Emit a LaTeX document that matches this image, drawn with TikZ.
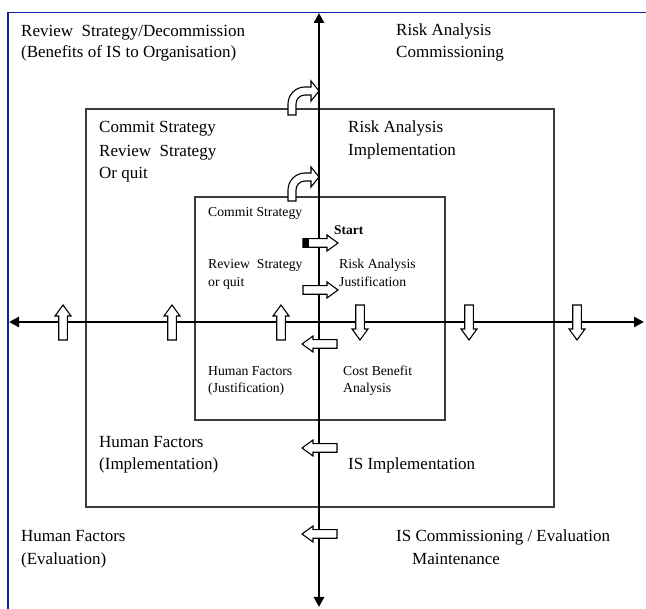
\documentclass[tikz,border=0pt]{standalone}
\usepackage{fontspec}
\setmainfont{Liberation Serif}
\usetikzlibrary{arrows.meta}
\definecolor{frameblue}{RGB}{25,25,170}
\definecolor{boxgray}{RGB}{60,60,60}
\begin{document}
\begin{tikzpicture}[x=1pt,y=-1pt,
  big/.style={font=\fontsize{17}{21}\selectfont, anchor=base west, inner sep=0},
  small/.style={font=\fontsize{13.7}{16}\selectfont, anchor=base west, inner sep=0},
  axisline/.style={line width=2.5pt, {Triangle[length=10pt,width=10pt]}-{Triangle[length=10pt,width=10pt]}},
  boxline/.style={draw=boxgray, line width=1.3pt},
  barrow/.style={draw=black, fill=white, line width=1.1pt, line join=miter},
  blockarrow/.pic={\draw[barrow] (0,-4.3) -- (24,-4.3) -- (24,-8) -- (35,0) -- (24,8) -- (24,4.3) -- (0,4.3) -- cycle;},
  bentarrow/.pic={\draw[barrow] (0,0) -- (-8,10) -- (-8,4) -- (-14,4) .. controls (-19,4) and (-23,8) .. (-23,13) -- (-23,24) -- (-31,24) -- (-31,13) .. controls (-31,3.6) and (-23.4,-4) .. (-14,-4) -- (-8,-4) -- (-8,-10) -- cycle;}
]
\useasboundingbox (0,0) rectangle (646,609);
\fill[white] (0,0) rectangle (646,609);

% outer frame (only top and left edges are visible)
\draw[frameblue, line width=1.4pt] (8,609) -- (8,12.7) -- (646,12.7);

% boxes
\draw[boxline] (86,109) rectangle (554,507);
\draw[boxline] (195,197) rectangle (445,420);

% axes
\coordinate (top) at (319,13);
\coordinate (bottom) at (319,607);
\coordinate (left) at (9,322);
\coordinate (right) at (644,322);
\draw[axisline] (top) -- (bottom);
\draw[axisline] (left) -- (right);

% bent arrows
\pic (bentA) at (319,91) {bentarrow};
\pic (bentB) at (319,177) {bentarrow};

% right arrows
\pic (startarrow) at (303,243) {blockarrow};
\fill[black] (303,238.7) rectangle (309,247.3);
\pic (rightB) at (303,290) {blockarrow};

% left arrows
\pic[rotate=180] (leftA) at (337,344) {blockarrow};
\pic[rotate=180] (leftB) at (337,448) {blockarrow};
\pic[rotate=180] (leftC) at (337,534) {blockarrow};

% up arrows
\pic[rotate=90] (upA) at (63,340) {blockarrow};
\pic[rotate=90] (upB) at (172,340) {blockarrow};
\pic[rotate=90] (upC) at (281,340) {blockarrow};

% down arrows
\pic[rotate=-90] (downA) at (360,305) {blockarrow};
\pic[rotate=-90] (downB) at (469,305) {blockarrow};
\pic[rotate=-90] (downC) at (577,305) {blockarrow};

% outer texts
\node[big] (t1a) at (21,37) {Review~ Strategy/Decommission};
\node[big] (t1b) at (21,58) {(Benefits of IS to Organisation)};
\node[big] (t2a) at (396,36) {Risk Analysis};
\node[big] (t2b) at (396,58) {Commissioning};

% middle box texts
\node[big] (m1a) at (99,133) {Commit Strategy};
\node[big] (m1b) at (99,157) {Review~ Strategy};
\node[big] (m1c) at (99,179) {Or quit};
\node[big] (m2a) at (348,133) {Risk Analysis};
\node[big] (m2b) at (348,156) {Implementation};
\node[big] (m3a) at (99,448) {Human Factors};
\node[big] (m3b) at (99,470) {(Implementation)};
\node[big] (m4) at (348,470) {IS Implementation};

% inner box texts
\node[small] (i1) at (208,217) {Commit Strategy};
\node[small, font=\fontsize{13.4}{16}\selectfont\bfseries] (start) at (334,235) {Start};
\node[small] (i2a) at (208,269) {Review~ Strategy};
\node[small] (i2b) at (208,287) {or quit};
\node[small] (i3a) at (339,269) {Risk Analysis};
\node[small] (i3b) at (339,287) {Justification};
\node[small] (i4a) at (208,376) {Human Factors};
\node[small] (i4b) at (208,393) {(Justification)};
\node[small] (i5a) at (343,376) {Cost Benefit};
\node[small] (i5b) at (343,393) {Analysis};

% bottom texts
\node[big] (b1a) at (21,542) {Human Factors};
\node[big] (b1b) at (21,565) {(Evaluation)};
\node[big] (b2a) at (396,542) {IS Commissioning / Evaluation};
\node[big] (b2b) at (412,565) {Maintenance};
\end{tikzpicture}
\end{document}
